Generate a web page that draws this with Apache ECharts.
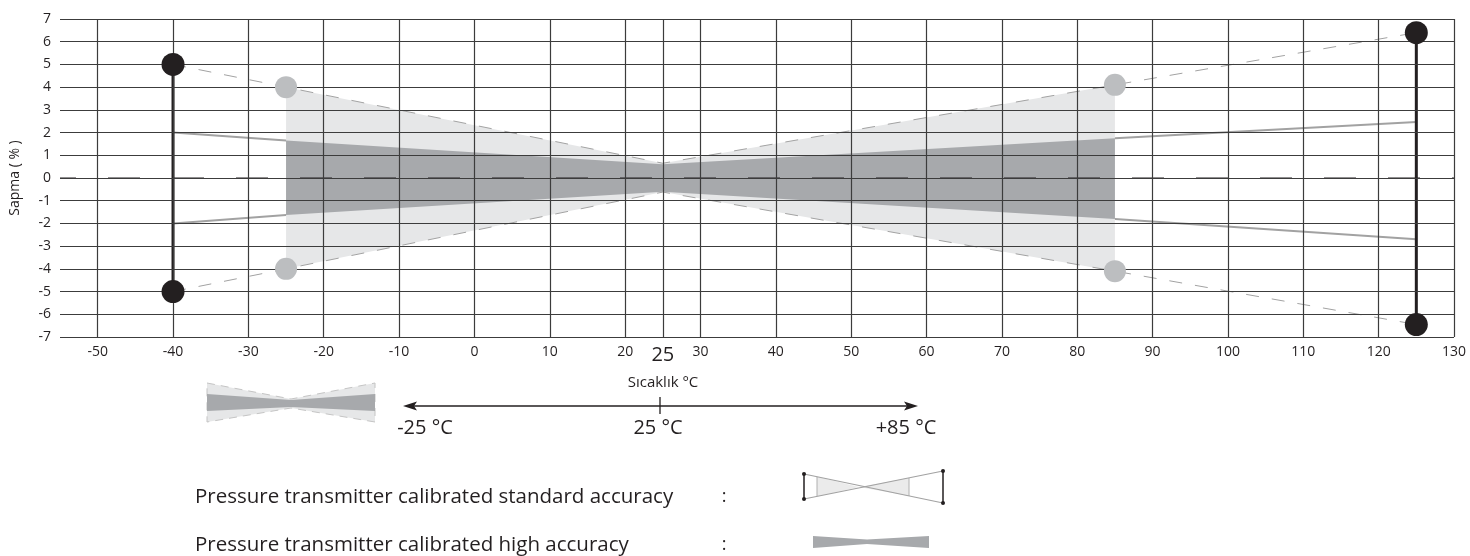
<!DOCTYPE html>
<html><head><meta charset="utf-8">
<script src="https://cdn.jsdelivr.net/npm/echarts@6/dist/echarts.min.js"></script>
<style>html,body{margin:0;padding:0;background:#fff}#c{width:1470px;height:556px}</style>
</head><body><div id="c"></div>
<script>
// ---- data ----
const xMin = -55, xMax = 130;
const yMin = -7, yMax = 7;
const xLabelValues = [-50,-40,-30,-20,-10,0,10,20,30,40,50,60,70,80,90,100,110,120,130];
const xHighlight = 25;
const xGridLines = [-50,-40,-30,-20,-10,0,10,20,25,30,40,50,60,70,80,90,100,110,120,130];
const yGridLines = [-7,-6,-5,-4,-3,-2,-1,0,1,2,3,4,5,6,7];
const zeroLine = [[-55,0],[130,0]];
const blackLeft = [[-40,5],[-40,-5]];
const blackRight = [[125,6.4],[125,-6.45]];
const greyDots = [[-25,4],[-25,-4],[85,4.1],[85,-4.1]];
const dashedUpper = [[-40,5],[-25,4],[25,0.65],[85,4.1],[125,6.4]];
const dashedLower = [[-40,-5],[-25,-4],[25,-0.62],[85,-4.1],[125,-6.45]];
const solidUpperLeft = [[-40,2],[-25,1.65]];
const solidLowerLeft = [[-40,-2],[-25,-1.63]];
const solidUpperRight = [[85,1.75],[125,2.47]];
const solidLowerRight = [[85,-1.8],[125,-2.7]];
const standardBand = [[-25,4],[25,0.65],[85,4.1],[85,-4.1],[25,-0.62],[-25,-4]];
const highBand = [[-25,1.65],[25,0.6],[85,1.75],[85,-1.8],[25,-0.6],[-25,-1.63]];
const yAxisName = 'Sapma ( % )';
const xAxisTitle = 'Sıcaklık °C';
const arrowLabels = ['-25 °C','25 °C','+85 °C'];
const legendTexts = ['Pressure transmitter calibrated standard accuracy','Pressure transmitter calibrated high accuracy'];

// ---- styles ----
const FONT = '"Open Sans", "DejaVu Sans", sans-serif';
const C_TEXT = '#231f20';
const C_GRID = '#3c3c3c';
const C_LIGHT = '#e6e7e8';
const C_DARK = '#a7a9ac';
const C_GREYLINE = '#a2a2a2';
const C_GREYDOT = '#bcbec0';

const chart = echarts.init(document.getElementById('c'), null, {renderer:'canvas'});

function lineSeries(data, style, z){
  return {type:'line', data, symbol:'none', silent:true, z, lineStyle:style, animation:false};
}

const option = {
  animation:false,
  grid:{left:55, right:16, top:19, bottom:219, containLabel:false},
  xAxis:{
    type:'value', min:xMin, max:xMax, interval:5,
    axisLine:{show:false}, axisTick:{show:false}, splitLine:{show:false},
    axisLabel:{
      margin:8, fontSize:14, color:C_TEXT, fontFamily:FONT,
      formatter:function(v){
        const r = Math.round(v);
        if (r === xHighlight) return '{big|' + r + '}';
        return xLabelValues.indexOf(r) >= 0 ? String(r) : '';
      },
      rich:{big:{fontSize:20, color:C_TEXT, fontFamily:FONT, padding:[0,0,4,0]}}
    }
  },
  yAxis:{
    type:'value', min:yMin, max:yMax, interval:1,
    name:yAxisName, nameLocation:'middle', nameGap:38, nameRotate:90,
    nameTextStyle:{fontSize:14, color:C_TEXT, fontFamily:FONT},
    axisLine:{show:false}, axisTick:{show:false}, splitLine:{show:false},
    axisLabel:{margin:9, fontSize:14, color:C_TEXT, fontFamily:FONT}
  },
  series:[
    {
      type:'custom', z:1, silent:true,
      data:[[-25,0]],
      renderItem:function(params, api){
        const toPts = arr => arr.map(p => api.coord(p));
        return {type:'group', children:[
          {type:'polygon', shape:{points:toPts(standardBand)}, style:{fill:C_LIGHT}},
          {type:'polygon', shape:{points:toPts(highBand)}, style:{fill:C_DARK}}
        ]};
      }
    },
    {
      type:'line', data:[], z:2, silent:true,
      markLine:{
        silent:true, symbol:['none','none'], label:{show:false}, animation:false,
        lineStyle:{color:C_GRID, width:1.2, type:'solid'},
        emphasis:{disabled:true},
        data:xGridLines.map(v=>({xAxis:v})).concat(yGridLines.map(v=>({yAxis:v})))
      }
    },
    lineSeries(zeroLine, {color:C_TEXT, width:1.2, type:[32,32], dashOffset:16}, 3),
    lineSeries(dashedUpper, {color:C_GREYLINE, width:1, type:[13,13]}, 3),
    lineSeries(dashedLower, {color:C_GREYLINE, width:1, type:[13,13]}, 3),
    lineSeries(solidUpperLeft, {color:C_GREYLINE, width:2}, 3),
    lineSeries(solidLowerLeft, {color:C_GREYLINE, width:2}, 3),
    lineSeries(solidUpperRight, {color:C_GREYLINE, width:2}, 3),
    lineSeries(solidLowerRight, {color:C_GREYLINE, width:2}, 3),
    lineSeries(blackLeft, {color:C_TEXT, width:3}, 4),
    lineSeries(blackRight, {color:C_TEXT, width:3}, 4),
    {type:'scatter', data:greyDots, symbolSize:22, z:5, silent:true, itemStyle:{color:C_GREYDOT, opacity:1}},
    {type:'scatter', data:blackLeft.concat(blackRight), symbolSize:23, z:6, silent:true, itemStyle:{color:C_TEXT, opacity:1}}
  ],
  graphic:[
    {type:'text', x:663, y:383, style:{text:xAxisTitle, font:'15px '+FONT, fill:C_TEXT, align:'center', verticalAlign:'middle'}},
    // arrow
    {type:'polyline', shape:{points:[[410,406],[911,406]]}, style:{stroke:C_TEXT, lineWidth:1.3}},
    {type:'polygon', shape:{points:[[403,406],[417,401.5],[414,406],[417,410.5]]}, style:{fill:C_TEXT}},
    {type:'polygon', shape:{points:[[918,406],[904,401.5],[907,406],[904,410.5]]}, style:{fill:C_TEXT}},
    {type:'polyline', shape:{points:[[660,397],[660,414]]}, style:{stroke:C_TEXT, lineWidth:1.3}},
    {type:'text', x:425, y:428, style:{text:arrowLabels[0], font:'20px '+FONT, fill:C_TEXT, align:'center', verticalAlign:'middle'}},
    {type:'text', x:658, y:428, style:{text:arrowLabels[1], font:'20px '+FONT, fill:C_TEXT, align:'center', verticalAlign:'middle'}},
    {type:'text', x:906, y:428, style:{text:arrowLabels[2], font:'20px '+FONT, fill:C_TEXT, align:'center', verticalAlign:'middle'}},
    // bow-tie illustration
    {type:'polygon', shape:{points:[[207,383],[291,399],[375,383],[375,422],[291,408],[207,422]]}, style:{fill:C_LIGHT, stroke:'#c4c4c4', lineWidth:1, lineDash:[8,6]}},
    {type:'polygon', shape:{points:[[207,394],[291,400],[375,394],[375,411],[291,407],[207,411]]}, style:{fill:C_DARK}},
    // legend
    {type:'text', x:195, y:497, style:{text:legendTexts[0], font:'20.5px '+FONT, fill:C_TEXT, align:'left', verticalAlign:'middle'}},
    {type:'text', x:195, y:545, style:{text:legendTexts[1], font:'20.5px '+FONT, fill:C_TEXT, align:'left', verticalAlign:'middle'}},
    {type:'text', x:724, y:497, style:{text:':', font:'18px '+FONT, fill:C_TEXT, align:'center', verticalAlign:'middle'}},
    {type:'text', x:724, y:545, style:{text:':', font:'18px '+FONT, fill:C_TEXT, align:'center', verticalAlign:'middle'}},
    // standard icon
    {type:'polygon', shape:{points:[[817,476.7],[859,487],[909,477.8],[909,495.9],[859,487],[817,496.4]]}, style:{fill:'#ebebeb'}},
    {type:'polyline', shape:{points:[[817,477],[817,496]]}, style:{stroke:'#b0b0b0', lineWidth:1}},
    {type:'polyline', shape:{points:[[909,478],[909,496]]}, style:{stroke:'#b0b0b0', lineWidth:1}},
    {type:'polyline', shape:{points:[[804,474],[943,503]]}, style:{stroke:C_GREYLINE, lineWidth:1.2}},
    {type:'polyline', shape:{points:[[804,499],[943,471]]}, style:{stroke:C_GREYLINE, lineWidth:1.2}},
    {type:'polyline', shape:{points:[[804,474],[804,499]]}, style:{stroke:C_TEXT, lineWidth:1.5}},
    {type:'polyline', shape:{points:[[943,471],[943,503]]}, style:{stroke:C_TEXT, lineWidth:1.5}},
    {type:'circle', shape:{cx:804, cy:474, r:2}, style:{fill:C_TEXT}},
    {type:'circle', shape:{cx:804, cy:499, r:2}, style:{fill:C_TEXT}},
    {type:'circle', shape:{cx:943, cy:471, r:2}, style:{fill:C_TEXT}},
    {type:'circle', shape:{cx:943, cy:503, r:2}, style:{fill:C_TEXT}},
    // high accuracy icon
    {type:'polygon', shape:{points:[[813,536],[867,539.5],[929,536],[929,548],[867,544],[813,548]]}, style:{fill:C_DARK}}
  ]
};
chart.setOption(option);
</script>
</body></html>
